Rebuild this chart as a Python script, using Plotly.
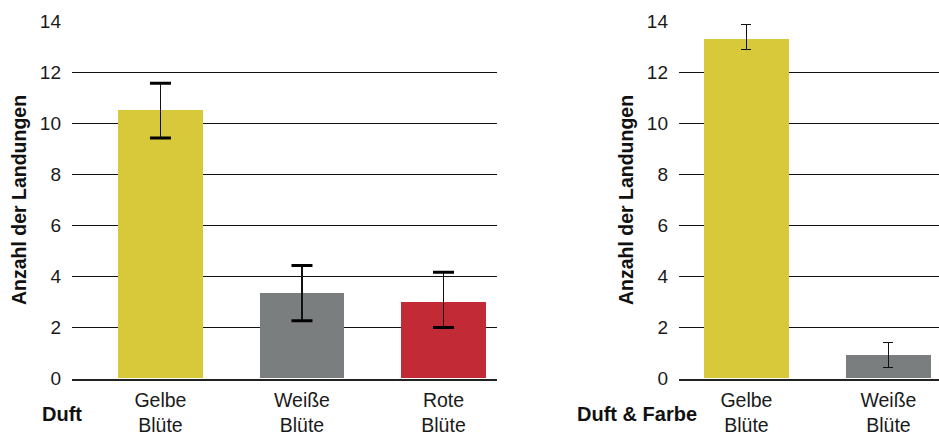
import plotly.graph_objects as go

# Landungen je Blütenfarbe – links nur Duft, rechts Duft & Farbe
duft_kategorien = ["Gelbe<br>Blüte", "Weiße<br>Blüte", "Rote<br>Blüte"]
duft_werte = [10.5, 3.35, 3.0]
duft_fehler_plus = [1.07, 1.08, 1.17]
duft_fehler_minus = [1.07, 1.08, 0.99]
duft_farben = ["#D8C93B", "#7B7E7F", "#C22A35"]

farbe_kategorien = ["Gelbe<br>Blüte", "Weiße<br>Blüte"]
farbe_werte = [13.3, 0.9]
farbe_fehler_plus = [0.58, 0.52]
farbe_fehler_minus = [0.40, 0.47]
farbe_farben = ["#D8C93B", "#7B7E7F"]

y_ticks = [0, 2, 4, 6, 8, 10, 12, 14]

FONT = "Liberation Sans, Arial, sans-serif"
W, H = 939, 437

fig = go.Figure()

# linkes Diagramm: Balken mit Fehlerbalken (dünner Stiel)
fig.add_trace(go.Bar(
    x=list(range(len(duft_werte))), y=duft_werte, width=0.6,
    marker=dict(color=duft_farben, line=dict(width=0)),
    error_y=dict(type="data", symmetric=False, array=duft_fehler_plus,
                 arrayminus=duft_fehler_minus, color="#111", thickness=1.6, width=0),
    xaxis="x", yaxis="y", showlegend=False, hoverinfo="skip",
))
# kräftige Endkappen der Fehlerbalken
kappen_y = [v + p for v, p in zip(duft_werte, duft_fehler_plus)] + \
           [v - m for v, m in zip(duft_werte, duft_fehler_minus)]
fig.add_trace(go.Scatter(
    x=list(range(len(duft_werte))) * 2, y=kappen_y, mode="markers",
    marker=dict(symbol="line-ew", size=15, line=dict(width=3, color="#000")),
    xaxis="x", yaxis="y", showlegend=False, hoverinfo="skip",
))

# rechtes Diagramm
fig.add_trace(go.Bar(
    x=list(range(len(farbe_werte))), y=farbe_werte, width=0.6,
    marker=dict(color=farbe_farben, line=dict(width=0)),
    error_y=dict(type="data", symmetric=False, array=farbe_fehler_plus,
                 arrayminus=farbe_fehler_minus, color="#111", thickness=1.2, width=5),
    xaxis="x2", yaxis="y2", showlegend=False, hoverinfo="skip",
))

y_top = 1 - 21.3 / H
y_bot = 1 - 378.7 / H

achse_y = dict(
    range=[0, 14], tickvals=y_ticks, showgrid=True, gridcolor="#111", gridwidth=1.3,
    zeroline=False, showline=False, ticks="", ticklabelstandoff=10, automargin=False,
    tickfont=dict(family=FONT, size=19, color="#1a1a1a"),
    domain=[y_bot, y_top],
    title=dict(text="<b>Anzahl der Landungen</b>", font=dict(family=FONT, size=19.5, color="#111"),
               standoff=8),
)
achse_x = dict(
    showgrid=False, zeroline=False, showline=True, linecolor="#222", linewidth=1.5,
    ticks="", tickfont=dict(family=FONT, size=19.5, color="#1a1a1a"),
    ticklabelstandoff=3, automargin=False,
)

fig.update_layout(
    width=W, height=H, margin=dict(l=0, r=0, t=0, b=0),
    paper_bgcolor="white", plot_bgcolor="white",
    bargap=0,
    xaxis=dict(achse_x, domain=[72 / W, 497 / W], range=[-0.625, 2.378],
               tickvals=list(range(len(duft_kategorien))), ticktext=duft_kategorien),
    yaxis=dict(achse_y, anchor="x"),
    xaxis2=dict(achse_x, domain=[679 / W, 1.0], range=[-0.475, 1.356],
                tickvals=list(range(len(farbe_kategorien))), ticktext=farbe_kategorien,
                anchor="y2"),
    yaxis2=dict(achse_y, anchor="x2"),
    annotations=[
        dict(text="<b>Duft</b>", x=40 / W, y=1 - 414 / H, xref="paper", yref="paper",
             xanchor="left", yanchor="middle", showarrow=False,
             font=dict(family=FONT, size=20, color="#111")),
        dict(text="<b>Duft & Farbe</b>", x=575 / W, y=1 - 414 / H, xref="paper", yref="paper",
             xanchor="left", yanchor="middle", showarrow=False,
             font=dict(family=FONT, size=20, color="#111")),
    ],
)

fig.write_html("out.html")
